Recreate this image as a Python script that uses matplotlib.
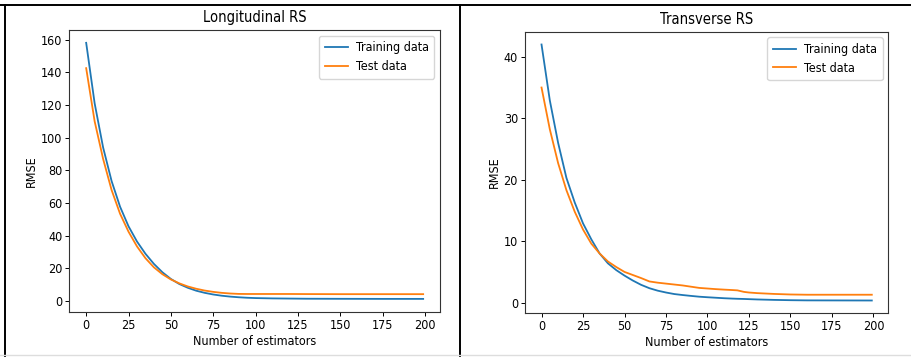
import matplotlib
matplotlib.use('Agg')
import matplotlib.pyplot as plt
from matplotlib.lines import Line2D

# values
n_est = [0, 5, 10, 15, 20, 25, 30, 35, 40, 45, 50, 55, 60, 65, 70, 75, 80, 85, 90, 95,
         100, 110, 120, 130, 150, 175, 199]

long_train = [158, 121, 94, 73.5, 57.8, 45.8, 36.5, 29, 22.8, 17.7, 13.6, 10.5, 8.2, 6.4, 5.1,
              4.1, 3.35, 2.8, 2.4, 2.1, 1.9, 1.7, 1.6, 1.5, 1.45, 1.4, 1.4]
long_test = [142.5, 110, 87, 68, 53.5, 42.5, 33.5, 26.3, 20.7, 16.5, 13.3, 10.9, 9.0, 7.6, 6.5,
             5.7, 5.1, 4.7, 4.45, 4.4, 4.4, 4.4, 4.4, 4.35, 4.3, 4.3, 4.3]

trans_x = [0, 5, 10, 15, 20, 25, 30, 35, 40, 45, 50, 55, 60, 65, 70, 75, 80, 85, 90, 95,
           100, 105, 110, 115, 118, 122, 125, 130, 140, 150, 160, 180, 199]
trans_train = [42, 32.9, 26.0, 20.3, 16.3, 12.9, 10.3, 8.0, 6.4, 5.3, 4.4, 3.6, 2.9, 2.35, 1.95,
               1.65, 1.4, 1.24, 1.1, 0.97, 0.88, 0.8, 0.72, 0.66, 0.63, 0.6, 0.57, 0.52, 0.45,
               0.4, 0.37, 0.36, 0.35]
trans_test = [35, 28.2, 22.7, 18.3, 14.8, 11.9, 9.6, 8.0, 6.7, 5.8, 5.0, 4.5, 4.0, 3.45, 3.25,
              3.1, 2.95, 2.8, 2.6, 2.4, 2.3, 2.2, 2.12, 2.05, 2.0, 1.75, 1.65, 1.55, 1.42,
              1.33, 1.29, 1.29, 1.29]

plt.rcParams['font.family'] = 'DejaVu Sans'
plt.rcParams['font.stretch'] = 'condensed'

fig = plt.figure(figsize=(9.11, 3.57), dpi=100)

FS = 9


def _panel(rect, x, train, test, title, yticks):
    ax = fig.add_axes(rect)
    ax.plot(x, train, color='#1f77b4', lw=1.3, label='Training data')
    ax.plot(x, test, color='#ff7f0e', lw=1.3, label='Test data')
    ax.set_title(title, fontsize=10.5, pad=5.5)
    ax.set_xlabel('Number of estimators', fontsize=FS, labelpad=2)
    ax.set_ylabel('RMSE', fontsize=FS, labelpad=2)
    ax.set_xticks([0, 25, 50, 75, 100, 125, 150, 175, 200])
    ax.set_yticks(yticks)
    ax.tick_params(labelsize=FS, length=2.6, width=0.7, pad=2.5)
    for s in ax.spines.values():
        s.set_linewidth(0.8)
        s.set_color('#333333')
    ax.legend(fontsize=FS, loc='upper right', handlelength=1.85, handletextpad=0.65,
              borderpad=0.45, labelspacing=0.45, framealpha=0.8, edgecolor='#cccccc',
              borderaxespad=0.45)
    return ax


_panel([0.0761, 0.1269, 0.4069, 0.789], n_est, long_train, long_test,
       'Longitudinal RS', [0, 20, 40, 60, 80, 100, 120, 140, 160])
_panel([0.5763, 0.1224, 0.3988, 0.7888], trans_x, trans_train, trans_test,
       'Transverse RS', [0, 10, 20, 30, 40])

# table-like frame round the two panels
W, H = 911, 357
fig.add_artist(Line2D([0, 1], [1 - 5.3 / H] * 2, color='black', lw=1.4))
fig.add_artist(Line2D([5.3 / W] * 2, [0, 1 - 5.3 / H], color='black', lw=1.4))
fig.add_artist(Line2D([460.3 / W] * 2, [0, 1 - 5.3 / H], color='black', lw=1.4))
fig.add_artist(Line2D([0, 1], [2 / H] * 2, color='#dddddd', lw=1))

fig.savefig('out.png', dpi=100)
